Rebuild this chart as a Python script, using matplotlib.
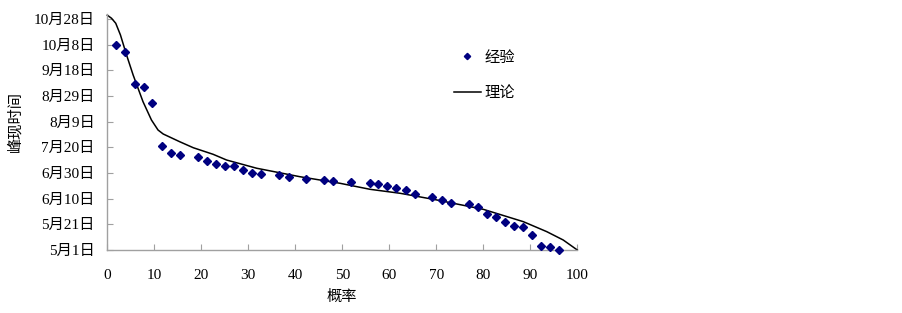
import matplotlib
matplotlib.use("Agg")
import matplotlib.pyplot as plt
from matplotlib.lines import Line2D

plt.rcParams['font.family'] = ['Liberation Serif', 'Noto Sans CJK SC', 'DejaVu Sans']

# empirical points: probability (%) and days after May 1
emp_x = [1.9, 3.8, 5.9, 7.8, 9.6, 11.55, 13.6, 15.5, 19.2, 21.3, 23.2, 25.0, 26.9,
         28.9, 30.8, 32.7, 36.6, 38.6, 42.3, 46.2, 48.1, 51.8, 55.8, 57.7, 59.6,
         61.5, 63.5, 65.4, 69.1, 71.3, 73.2, 76.9, 78.8, 80.8, 82.7, 84.6, 86.5,
         88.5, 90.4, 92.3, 94.1, 96.2]
emp_y = [159.6, 154.0, 129.6, 127.3, 114.8, 81.0, 75.8, 74.0, 72.5, 69.6, 67.3, 65.7, 65.2,
         62.6, 59.8, 59.0, 58.2, 56.7, 55.6, 54.8, 54.0, 52.8, 52.0, 51.4, 49.6,
         48.1, 46.5, 43.4, 41.1, 39.0, 36.6, 36.1, 33.5, 28.3, 26.0, 22.1, 19.0,
         18.2, 11.9, 2.9, 2.1, 0.0]

# theoretical curve
th_x = [0, 0.9, 1.8, 2.8, 4.1, 5.5, 7.6, 9.4, 10.8, 11.9, 15.4, 18.3, 22.5, 25.4,
        31.8, 41, 49.5, 55.9, 62.3, 70.1, 80.0, 88.5, 93.5, 97.0, 100]
th_y = [183, 180.6, 176.7, 167.6, 152, 136.4, 115.6, 101.3, 93.5, 90.4, 84.4, 79.7,
        74.6, 70.1, 63.7, 57.1, 52, 47.3, 44.2, 39.0, 31.7, 22.1, 14.3, 7.8, 0]

y_ticks = [0, 20, 40, 60, 80, 100, 120, 140, 160, 180]
y_labels = ['5月1日', '5月21日', '6月10日', '6月30日', '7月20日', '8月9日',
            '8月29日', '9月18日', '10月8日', '10月28日']
x_ticks = [0, 10, 20, 30, 40, 50, 60, 70, 80, 90, 100]

fig = plt.figure(figsize=(9.03, 3.13), dpi=100)
ax = fig.add_axes([0.1188, 0.2013, 0.6393 - 0.1188, 0.9556 - 0.2013])

ax.plot(th_x, th_y, color='black', lw=1.1, clip_on=False, zorder=2)
ax.plot(emp_x, emp_y, linestyle='none', marker='D', markersize=3.7,
        color='#000080', clip_on=False, zorder=3)

ax.set_xlim(0, 100)
ax.set_ylim(0, 184)
ax.set_xticks(x_ticks)
ax.set_xticklabels([str(v) for v in x_ticks])
ax.set_yticks(y_ticks)
ax.set_yticklabels(y_labels)

for s in ['top', 'right']:
    ax.spines[s].set_visible(False)
for s in ['left', 'bottom']:
    ax.spines[s].set_color('#a0a0a0')
    ax.spines[s].set_linewidth(1.0)
ax.tick_params(axis='both', direction='in', length=4, color='#a0a0a0',
               labelsize=11)
ax.tick_params(axis='x', pad=14)
ax.tick_params(axis='y', pad=9)

fig.text(15 / 903, 1 - 122 / 313, '峰现时间', rotation=90, ha='center', va='center',
         fontsize=11)
fig.text(341.7 / 903, 1 - 297 / 313, '概率', ha='center', va='center', fontsize=11)

# legend
handles = [Line2D([], [], linestyle='none', marker='D', markersize=3.2, color='#000080'),
           Line2D([], [], color='black', lw=1.1)]
leg = fig.legend(handles, ['经验', '理论'], loc='upper left',
                 bbox_to_anchor=(440 / 903, 1 - 37 / 313), frameon=False,
                 fontsize=11, handlelength=1.8, handletextpad=0.2,
                 labelspacing=1.4)

fig.savefig('out.png', dpi=100)
